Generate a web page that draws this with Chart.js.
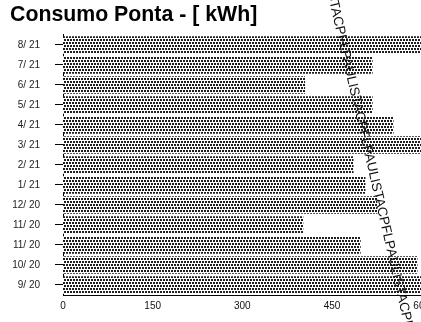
<!DOCTYPE html>
<html>
<head>
<meta charset="utf-8">
<script src="https://cdn.jsdelivr.net/npm/chart.js@4.4.0/dist/chart.umd.min.js"></script>
<style>
  html, body { margin: 0; padding: 0; background: #fff; overflow: hidden; }
  #wrap { position: relative; width: 435px; height: 322px; }
</style>
</head>
<body>
<div id="wrap"><canvas id="chart"></canvas></div>
<script>
// months as printed on the bill, newest first
const months = ['8/ 21', '7/ 21', '6/ 21', '5/ 21', '4/ 21', '3/ 21', '2/ 21', '1/ 21', '12/ 20', '11/ 20', '11/ 20', '10/ 20', '9/ 20'];
// kWh in peak hours (bars running off the right edge are > 600)
const consumo = [610, 518, 405, 518, 553, 610, 486, 506, 526, 402, 498, 593, 610];
const xTicks = [0, 150, 300, 450, 600];
const watermark = 'STACPFLPAULISTACPFLPAULISTACPFLPAULISTACPFL';

const family = '"Liberation Sans", Arial, sans-serif';

// stippled fill like the printed bars: staggered dark squares every 3px
function dotPattern() {
    const c = document.createElement('canvas');
    c.width = 6; c.height = 6;
    const g = c.getContext('2d');
    g.fillStyle = '#fff';
    g.fillRect(0, 0, 6, 6);
    g.fillStyle = '#1e1e1e';
    g.fillRect(0, 0, 2, 2);
    g.fillRect(3, 0, 2, 2);
    g.fillRect(1, 3, 2, 2);
    g.fillRect(4, 3, 2, 2);
    return g.createPattern(c, 'repeat');
}

// the diagonal stamp across the scanned page
const watermarkPlugin = {
    id: 'watermark',
    afterDatasetsDraw(chart) {
        const ctx = chart.ctx;
        ctx.save();
        ctx.translate(331, -8);
        ctx.rotate(77 * Math.PI / 180);
        ctx.font = '13.5px ' + family;
        ctx.fillStyle = '#111';
        ctx.textBaseline = 'middle';
        ctx.fillText(watermark, 0, 0);
        ctx.restore();
    }
};

new Chart(document.getElementById('chart').getContext('2d'), {
    type: 'bar',
    data: {
        labels: months,
        datasets: [{
            data: consumo,
            backgroundColor: dotPattern(),
            borderWidth: 0,
            barPercentage: 0.88,
            categoryPercentage: 1
        }]
    },
    options: {
        indexAxis: 'y',
        responsive: true,
        maintainAspectRatio: false,
        animation: false,
        layout: { padding: { left: 10, top: 0, right: 0, bottom: 5 } },
        plugins: {
            legend: { display: false },
            tooltip: { enabled: false },
            title: {
                display: true,
                text: 'Consumo Ponta - [ kWh]',
                align: 'start',
                color: '#000',
                font: { size: 21.3, weight: 'bold', family: family },
                padding: { top: 2, bottom: 7.4 }
            }
        },
        scales: {
            x: {
                min: 0,
                max: 600,
                afterBuildTicks: (scale) => { scale.ticks = xTicks.map(v => ({ value: v })); },
                ticks: { color: '#111', font: { size: 10, family: family }, padding: 5, maxRotation: 0 },
                grid: { display: false, drawTicks: false },
                border: { display: true, color: '#000', width: 1 }
            },
            y: {
                ticks: { color: '#222', font: { size: 10, family: family }, padding: 15, autoSkip: false },
                grid: { display: true, drawOnChartArea: false, drawTicks: true, tickLength: 8, offset: false, color: '#000' },
                border: { display: true, color: '#000', width: 1 },
                afterFit: (scale) => { scale.width = 53; }
            }
        }
    },
    plugins: [watermarkPlugin]
});
</script>
</body>
</html>
